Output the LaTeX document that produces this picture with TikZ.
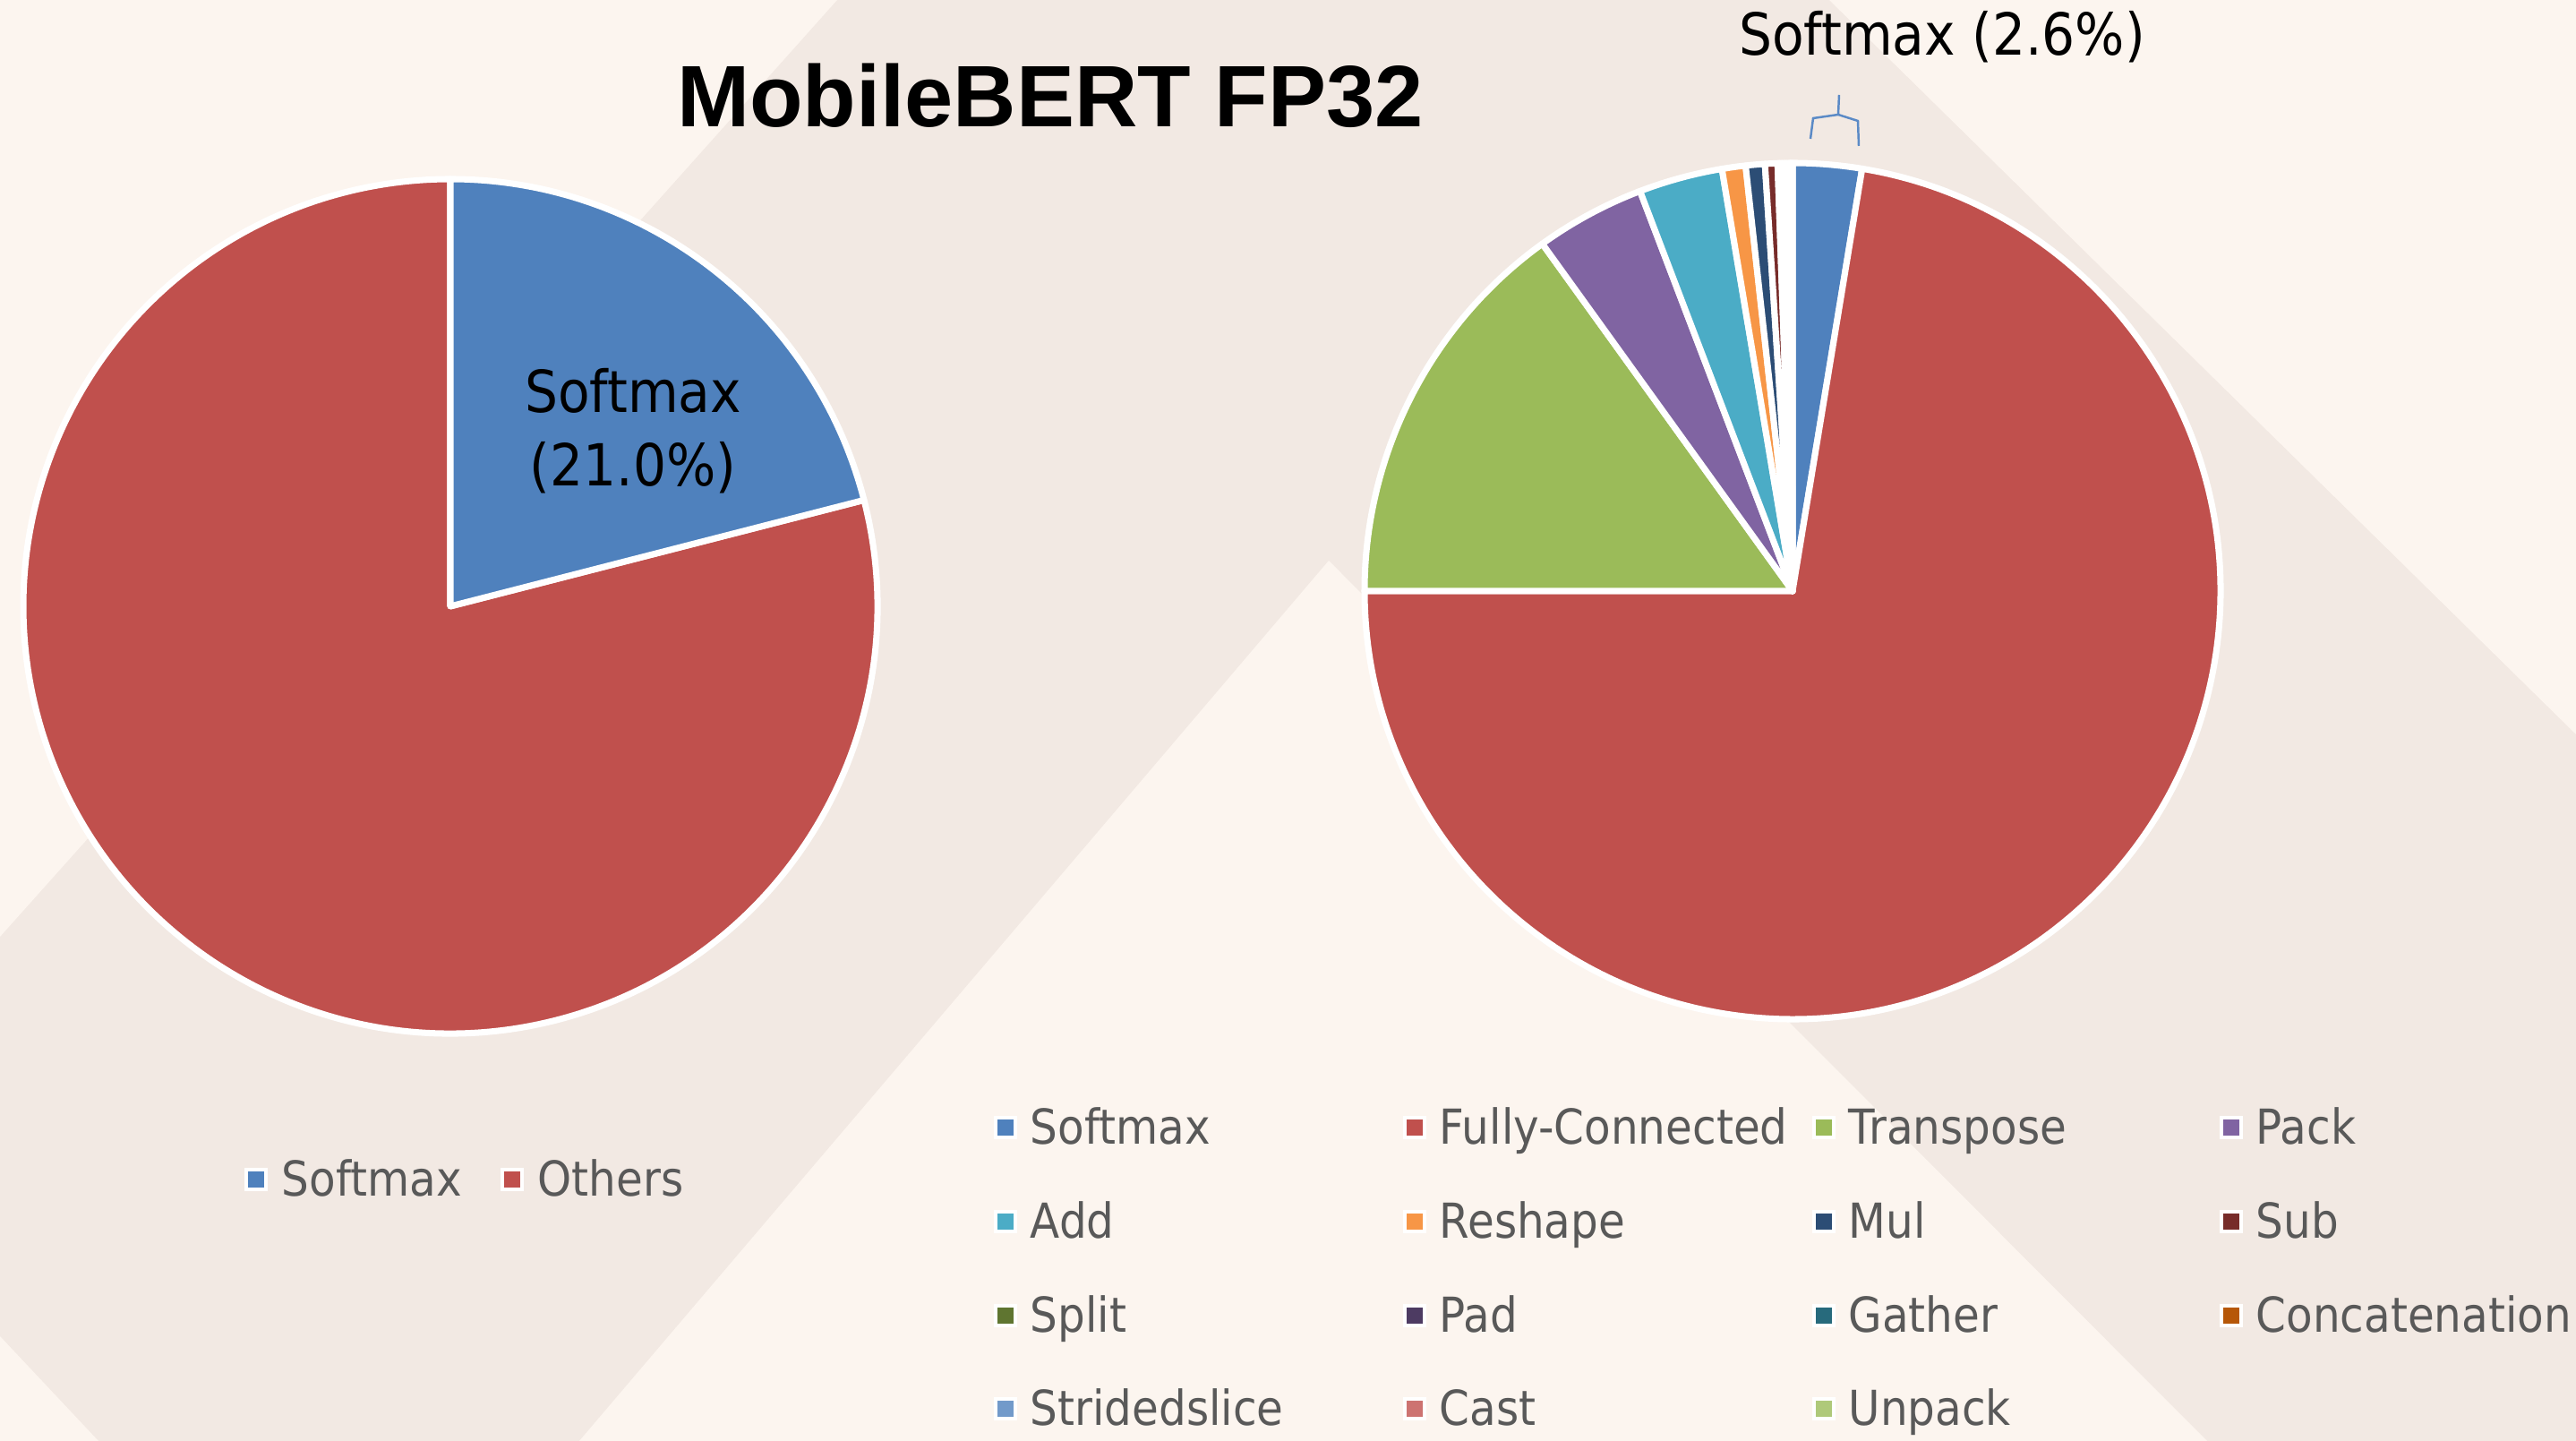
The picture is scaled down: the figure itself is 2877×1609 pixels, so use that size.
\documentclass[tikz,border=0pt]{standalone}
\usepackage{fontspec}
\setmainfont{DejaVu Sans}[FakeStretch=0.9]
\newfontfamily\titlefont{Liberation Sans}
\usetikzlibrary{positioning}

% background
\definecolor{bgdark}{HTML}{F2E9E3}
\definecolor{bglight}{HTML}{FCF5EF}
% series colours
\definecolor{softmaxc}{HTML}{4F81BD}
\definecolor{fcc}{HTML}{C0504D}
\definecolor{transposec}{HTML}{9BBB59}
\definecolor{packc}{HTML}{8064A2}
\definecolor{addc}{HTML}{4BACC6}
\definecolor{reshapec}{HTML}{F79646}
\definecolor{mulc}{HTML}{2C4D75}
\definecolor{subc}{HTML}{772C2A}
\definecolor{splitc}{HTML}{5F7530}
\definecolor{padc}{HTML}{4D3B62}
\definecolor{gatherc}{HTML}{276A7C}
\definecolor{concatc}{HTML}{B65708}
\definecolor{stridedc}{HTML}{729ACA}
\definecolor{castc}{HTML}{CD7371}
\definecolor{unpackc}{HTML}{AFC97A}
\definecolor{legendgray}{HTML}{595959}
\definecolor{calloutblue}{HTML}{5B8AC6}

\begin{document}
\begin{tikzpicture}[x=0.01cm, y=0.01cm,
    slice/.style={draw=white, line width=2pt, line join=round},
    pielabel/.style={font=\fontsize{18.4}{22}\selectfont, inner sep=0, anchor=base},
    legmark/.style={draw=white, line width=1.4pt, minimum size=0.22cm, inner sep=0},
    legtext/.style={font=\fontsize{15.3}{18}\selectfont, text=legendgray, inner sep=0, anchor=base west},
    callout/.style={draw=calloutblue, line width=0.7pt}
]
\useasboundingbox (0,0) rectangle (2877,1609);

% Background bands
\fill[bgdark] (0,0) rectangle (2877,1609);
\fill[bglight] (0,1609) -- (935,1609) -- (0,563) -- cycle;
\fill[bglight] (0,117) -- (110,0) -- (0,0) -- cycle;
\fill[bglight] (1484,983) -- (2465,0) -- (647,0) -- cycle;
\fill[bglight] (2043,1609) -- (2877,1609) -- (2877,789) -- cycle;

% Title
\node[font=\titlefont\bfseries\fontsize{27.7}{32}\selectfont, anchor=base, inner sep=0] (title) at (1173,1467) {MobileBERT FP32};

% Left pie: Softmax vs. others
\coordinate (lc) at (503,932);
\path[fill=fcc, slice] (lc) -- ++(14.4:477) arc[start angle=14.4, end angle=-270, radius=477] -- cycle;
\path[fill=softmaxc, slice] (lc) -- ++(90:477) arc[start angle=90, end angle=14.4, radius=477] -- cycle;
\node[pielabel] (lsoft) at (707,1148) {Softmax};
\node[pielabel] (lsoftpct) at (707,1066) {(21.0\%)};

% Right pie: all operators
\coordinate (rc) at (2002,949);
\path[fill=softmaxc, slice] (rc) -- ++(90:478) arc[start angle=90, end angle=80.64, radius=478] -- cycle;
\path[fill=fcc, slice] (rc) -- ++(80.64:478) arc[start angle=80.64, end angle=-180, radius=478] -- cycle;
\path[fill=transposec, slice] (rc) -- ++(-180:478) arc[start angle=-180, end angle=-234.22, radius=478] -- cycle;
\path[fill=packc, slice] (rc) -- ++(-234.22:478) arc[start angle=-234.22, end angle=-249.12, radius=478] -- cycle;
\path[fill=addc, slice] (rc) -- ++(-249.12:478) arc[start angle=-249.12, end angle=-260.5, radius=478] -- cycle;
\path[fill=reshapec, slice] (rc) -- ++(-260.5:478) arc[start angle=-260.5, end angle=-263.7, radius=478] -- cycle;
\path[fill=mulc, slice] (rc) -- ++(-263.7:478) arc[start angle=-263.7, end angle=-266.3, radius=478] -- cycle;
\path[fill=subc, slice] (rc) -- ++(-266.3:478) arc[start angle=-266.3, end angle=-268.0, radius=478] -- cycle;
\path[fill=splitc, slice] (rc) -- ++(-268.0:478) arc[start angle=-268.0, end angle=-268.29, radius=478] -- cycle;
\path[fill=padc, slice] (rc) -- ++(-268.29:478) arc[start angle=-268.29, end angle=-268.58, radius=478] -- cycle;
\path[fill=gatherc, slice] (rc) -- ++(-268.58:478) arc[start angle=-268.58, end angle=-268.87, radius=478] -- cycle;
\path[fill=concatc, slice] (rc) -- ++(-268.87:478) arc[start angle=-268.87, end angle=-269.16, radius=478] -- cycle;
\path[fill=stridedc, slice] (rc) -- ++(-269.16:478) arc[start angle=-269.16, end angle=-269.45, radius=478] -- cycle;
\path[fill=castc, slice] (rc) -- ++(-269.45:478) arc[start angle=-269.45, end angle=-269.74, radius=478] -- cycle;
\path[fill=unpackc, slice] (rc) -- ++(-269.74:478) arc[start angle=-269.74, end angle=-270, radius=478] -- cycle;

% Softmax callout with bracket
\node[pielabel] (rsoft) at (2169,1547) {Softmax (2.6\%)};
\coordinate (brL) at (2022,1454);
\coordinate (brLt) at (2025,1477);
\coordinate (brM) at (2053,1481);
\coordinate (brRt) at (2075,1474);
\coordinate (brR) at (2076,1446);
\coordinate (brTop) at (2054,1503);
\draw[callout] (brL) -- (brLt) -- (brM) -- (brRt) -- (brR);
\draw[callout] (brM) -- (brTop);

% Legend, left pie
\node[legmark, fill=softmaxc] (lmsoft) at (286,292) {};
\node[legtext] (ltsoft) at (314,273) {Softmax};
\node[legmark, fill=fcc] (lmoth) at (572,292) {};
\node[legtext] (ltoth) at (600,273) {Others};

% Legend, right pie (4 columns)
\node[legmark, fill=softmaxc] (msoft) at (1123,350) {};
\node[legtext] (tsoft) at (1150,331) {Softmax};
\node[legmark, fill=fcc] (mfc) at (1580,350) {};
\node[legtext] (tfc) at (1607,331) {Fully-Connected};
\node[legmark, fill=transposec] (mtrans) at (2037,350) {};
\node[legtext] (ttrans) at (2064,331) {Transpose};
\node[legmark, fill=packc] (mpack) at (2492,350) {};
\node[legtext] (tpack) at (2519,331) {Pack};

\node[legmark, fill=addc] (madd) at (1123,245) {};
\node[legtext] (tadd) at (1150,226) {Add};
\node[legmark, fill=reshapec] (mresh) at (1580,245) {};
\node[legtext] (tresh) at (1607,226) {Reshape};
\node[legmark, fill=mulc] (mmul) at (2037,245) {};
\node[legtext] (tmul) at (2064,226) {Mul};
\node[legmark, fill=subc] (msub) at (2492,245) {};
\node[legtext] (tsub) at (2519,226) {Sub};

\node[legmark, fill=splitc] (msplit) at (1123,140) {};
\node[legtext] (tsplit) at (1150,121) {Split};
\node[legmark, fill=padc] (mpad) at (1580,140) {};
\node[legtext] (tpad) at (1607,121) {Pad};
\node[legmark, fill=gatherc] (mgath) at (2037,140) {};
\node[legtext] (tgath) at (2064,121) {Gather};
\node[legmark, fill=concatc] (mcat) at (2492,140) {};
\node[legtext] (tcat) at (2519,121) {Concatenation};

\node[legmark, fill=stridedc] (mstr) at (1123,36) {};
\node[legtext] (tstr) at (1150,17) {Stridedslice};
\node[legmark, fill=castc] (mcast) at (1580,36) {};
\node[legtext] (tcast) at (1607,17) {Cast};
\node[legmark, fill=unpackc] (munp) at (2037,36) {};
\node[legtext] (tunp) at (2064,17) {Unpack};

\end{tikzpicture}
\end{document}
